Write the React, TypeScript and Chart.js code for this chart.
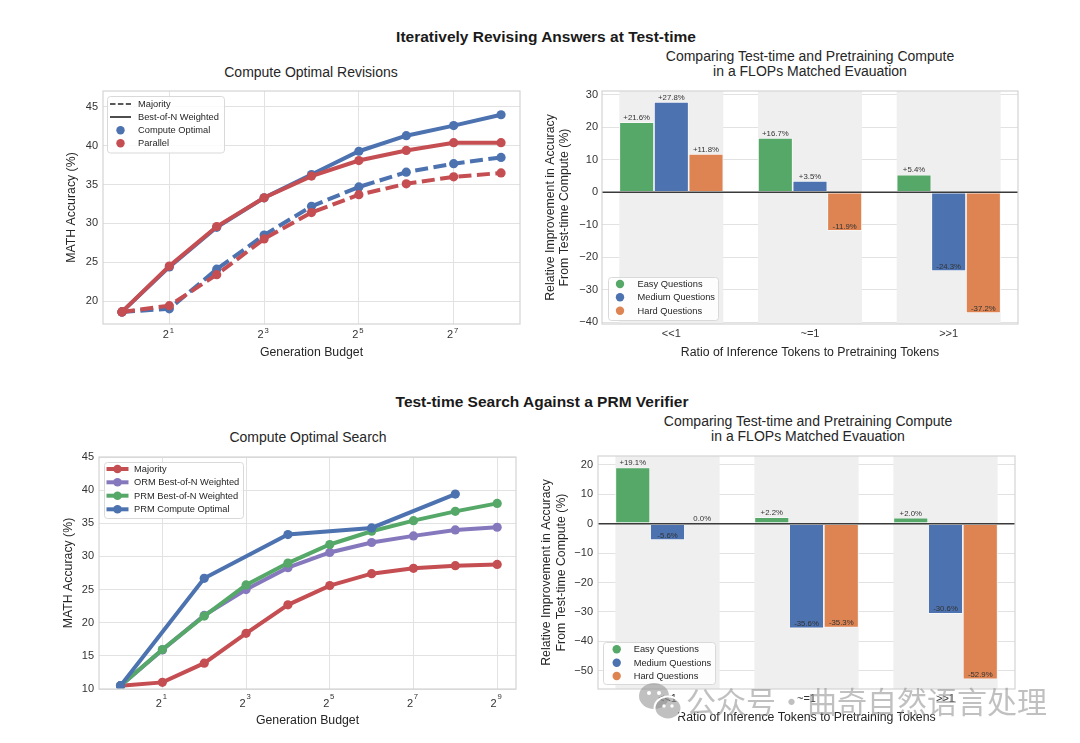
import React, { useEffect, useRef } from 'react';
import { Chart, registerables } from 'chart.js';

Chart.register(...registerables);

const FONT = "'Liberation Sans', Arial, Helvetica, sans-serif";
Chart.defaults.font.family = FONT;

// ---------------- data ----------------
const revisionBudgets = [1, 2, 4, 8, 16, 32, 64, 128, 256];
const computeOptimalBestOfN = [18.6, 24.4, 29.5, 33.3, 36.3, 39.3, 41.3, 42.6, 44.0];
const parallelBestOfN = [18.6, 24.5, 29.6, 33.3, 36.1, 38.1, 39.4, 40.4, 40.4];
const computeOptimalMajority = [18.6, 19.0, 24.1, 28.5, 32.2, 34.7, 36.6, 37.7, 38.5];
const parallelMajority = [18.6, 19.4, 23.4, 28.0, 31.4, 33.7, 35.1, 36.0, 36.5];

const searchBudgets = [1, 2, 4, 8, 16, 32, 64, 128, 256, 512];
const searchMajority = [10.5, 11.0, 13.9, 18.4, 22.7, 25.6, 27.4, 28.2, 28.6, 28.8];
const ormBestOfN = [10.5, 15.9, 21.1, 25.0, 28.3, 30.6, 32.1, 33.1, 34.0, 34.4];
const prmBestOfN = [10.5, 15.95, 21.0, 25.7, 29.0, 31.8, 33.8, 35.4, 36.8, 38.0];
const prmOptimalBudgets = [1, 4, 16, 64, 256];
const prmComputeOptimal = [10.5, 26.7, 33.3, 34.3, 39.4];

const ratioCategories = ['<<1', '~=1', '>>1'];
const revisionEasy = [21.6, 16.7, 5.4];
const revisionMedium = [27.8, 3.5, -24.3];
const revisionHard = [11.8, -11.9, -37.2];
const searchEasy = [19.1, 2.2, 2.0];
const searchMedium = [-5.6, -35.6, -30.6];
const searchHard = [0.0, -35.3, -52.9];

const revisionAccTicks = [20, 25, 30, 35, 40, 45];
const searchAccTicks = [10, 15, 20, 25, 30, 35, 40, 45];
const revisionBudgetTicks = [2, 8, 32, 128];
const searchBudgetTicks = [2, 8, 32, 128, 512];
const revisionImprovementTicks = [-40, -30, -20, -10, 0, 10, 20, 30];
const searchImprovementTicks = [-50, -40, -30, -20, -10, 0, 10, 20];

// ---------------- style ----------------
const BLUE = '#4C72B0';
const RED = '#C44E52';
const GREEN = '#55A868';
const ORANGE = '#DD8452';
const PURPLE = '#8678BD';
const GRID = '#e2e2e2';
const FRAME = '#d4d4d4';
const TICK = '#333333';
const LABEL = '#262626';

type Box = { left: number; top: number; width: number; height: number };
type Rect = { left: number; top: number; right: number; bottom: number };

const BOX1: Box = { left: 60, top: 85, width: 470, height: 280 };
const PLOT1: Rect = { left: 103, top: 91, right: 520, bottom: 324 };
const BOX2: Box = { left: 540, top: 85, width: 490, height: 280 };
const PLOT2: Rect = { left: 602, top: 91, right: 1018, bottom: 324 };
const BOX3: Box = { left: 56, top: 450, width: 474, height: 285 };
const PLOT3: Rect = { left: 99, top: 457, right: 516, bottom: 689 };
const BOX4: Box = { left: 530, top: 450, width: 500, height: 285 };
const PLOT4: Rect = { left: 598, top: 456, right: 1015, bottom: 689 };

function layoutFor(box: Box, plot: Rect) {
  return {
    padding: { top: plot.top - box.top, right: box.left + box.width - plot.right, left: 0, bottom: 0 },
    yWidth: plot.left - box.left,
    xHeight: box.top + box.height - plot.bottom,
  };
}

const fitTo = (kind: 'x' | 'y', size: number) => (s: any) => {
  if (kind === 'y') s.width = size;
  else s.height = size;
  s.paddingTop = 0;
  s.paddingBottom = 0;
  s.paddingLeft = 0;
  s.paddingRight = 0;
};
const fixTicks = (vals: number[]) => (s: any) => {
  s.ticks = vals.map((value) => ({ value }));
};
const minusFmt = (v: any) => (Number(v) < 0 ? '\u2212' + Math.abs(Number(v)) : String(v));

// ---------------- plugins ----------------
const framePlugin = {
  id: 'frameBox',
  afterDraw(chart: any) {
    const { ctx, chartArea: a } = chart;
    ctx.save();
    ctx.strokeStyle = FRAME;
    ctx.lineWidth = 1.2;
    ctx.strokeRect(a.left, a.top, a.right - a.left, a.bottom - a.top);
    ctx.restore();
  },
};

type LegendItem = { label: string; kind: 'dash' | 'line' | 'dot' | 'linedot'; color: string };
type LegendSpec = {
  x1: number; y1: number; x2: number; y2: number;
  rows: number[]; markerX: number; textX: number; half: number; dotR: number;
  fontSize: number; items: LegendItem[];
};

function legendPlugin(box: Box, spec: LegendSpec) {
  return {
    id: 'customLegend',
    afterDraw(chart: any) {
      const ctx = chart.ctx;
      ctx.save();
      ctx.translate(-box.left, -box.top);
      ctx.beginPath();
      ctx.roundRect(spec.x1 + 0.5, spec.y1 + 0.5, spec.x2 - spec.x1, spec.y2 - spec.y1, 3);
      ctx.fillStyle = 'rgba(255,255,255,0.85)';
      ctx.fill();
      ctx.strokeStyle = '#d9d9d9';
      ctx.lineWidth = 1;
      ctx.stroke();
      ctx.font = `${spec.fontSize}px ${FONT}`;
      ctx.textBaseline = 'middle';
      ctx.textAlign = 'left';
      spec.items.forEach((it, i) => {
        const y = spec.rows[i];
        const mx = spec.markerX;
        if (it.kind !== 'dot') {
          ctx.beginPath();
          ctx.setLineDash(it.kind === 'dash' ? [5.5, 2.4] : []);
          ctx.lineWidth = it.kind === 'linedot' ? 4 : 1.6;
          ctx.strokeStyle = it.color;
          ctx.moveTo(mx - spec.half, y);
          ctx.lineTo(mx + spec.half, y);
          ctx.stroke();
          ctx.setLineDash([]);
        }
        if (it.kind === 'dot' || it.kind === 'linedot') {
          ctx.beginPath();
          ctx.arc(mx, y, spec.dotR, 0, Math.PI * 2);
          ctx.fillStyle = it.color;
          ctx.fill();
        }
        ctx.fillStyle = LABEL;
        ctx.fillText(it.label, spec.textX, y + 0.5);
      });
      ctx.restore();
    },
  };
}

function pow2LabelPlugin(baseDy: number, supDy: number) {
  return {
    id: 'pow2Labels',
    afterDraw(chart: any) {
      const sc = chart.scales.x;
      const ctx = chart.ctx;
      const bottom = chart.chartArea.bottom;
      ctx.save();
      ctx.fillStyle = TICK;
      ctx.textBaseline = 'alphabetic';
      ctx.textAlign = 'left';
      sc.ticks.forEach((t: any) => {
        const x = sc.getPixelForValue(t.value);
        const exp = String(Math.round(Math.log2(t.value)));
        ctx.font = `11px ${FONT}`;
        const w1 = ctx.measureText('2').width;
        ctx.font = `7.7px ${FONT}`;
        const w2 = ctx.measureText(exp).width;
        const start = x - (w1 + w2 + 0.8) / 2 - 1;
        ctx.font = `11px ${FONT}`;
        ctx.fillText('2', start, bottom + baseDy);
        ctx.font = `7.7px ${FONT}`;
        ctx.fillText(exp, start + w1 + 0.8, bottom + supDy);
      });
      ctx.restore();
    },
  };
}

const bandPlugin = {
  id: 'groupBands',
  beforeDatasetsDraw(chart: any) {
    const { ctx, chartArea: a } = chart;
    const first = chart.getDatasetMeta(0).data;
    const last = chart.getDatasetMeta(chart.data.datasets.length - 1).data;
    ctx.save();
    ctx.fillStyle = '#efefef';
    first.forEach((el: any, i: number) => {
      const l = el.x - el.width / 2;
      const r = last[i].x + last[i].width / 2;
      ctx.fillRect(l, a.top, r - l, a.bottom - a.top);
    });
    ctx.restore();
  },
};

const zeroLinePlugin = {
  id: 'zeroLine',
  afterDatasetsDraw(chart: any) {
    const { ctx, chartArea: a } = chart;
    const y = chart.scales.y.getPixelForValue(0);
    ctx.save();
    ctx.strokeStyle = '#3a3a3a';
    ctx.lineWidth = 1.5;
    ctx.beginPath();
    ctx.moveTo(a.left, y);
    ctx.lineTo(a.right, y);
    ctx.stroke();
    ctx.restore();
  },
};

const barLabelPlugin = {
  id: 'barLabels',
  afterDatasetsDraw(chart: any) {
    const ctx = chart.ctx;
    ctx.save();
    ctx.font = `7.8px ${FONT}`;
    ctx.fillStyle = '#333';
    ctx.textAlign = 'center';
    ctx.textBaseline = 'bottom';
    chart.data.datasets.forEach((ds: any, i: number) => {
      chart.getDatasetMeta(i).data.forEach((el: any, j: number) => {
        const v = ds.data[j];
        const txt = (v > 0 ? '+' : '') + v.toFixed(1) + '%';
        ctx.fillText(txt, el.x, el.y - 0.5);
      });
    });
    ctx.restore();
  },
};

// ---------------- chart configs ----------------
function lineDs(label: string, xs: number[], ys: number[], color: string, dashed: boolean, order: number) {
  return {
    label,
    data: xs.map((x, i) => ({ x, y: ys[i] })),
    borderColor: color,
    backgroundColor: color,
    borderWidth: 4,
    borderDash: dashed ? [13, 5.5] : [],
    borderCapStyle: 'butt',
    pointRadius: 4.6,
    pointBorderWidth: 0,
    pointBackgroundColor: color,
    pointBorderColor: color,
    tension: 0,
    order,
  };
}

function axisTitle(text: any, padding: any, lineHeight = 1.2) {
  return { display: true, text, color: LABEL, font: { size: 12.3, family: FONT, lineHeight }, padding };
}

function makeLineOptions(box: Box, plot: Rect, xMinExp: number, xMaxExp: number, xTicks: number[], yMin: number, yMax: number, yTicks: number[], yTitlePad: number, xTitlePad: number) {
  const lay = layoutFor(box, plot);
  return {
    animation: false,
    responsive: false,
    devicePixelRatio: 1,
    layout: { padding: lay.padding },
    plugins: { legend: { display: false }, tooltip: { enabled: false }, title: { display: false } },
    scales: {
      x: {
        type: 'logarithmic',
        min: Math.pow(2, xMinExp),
        max: Math.pow(2, xMaxExp),
        afterBuildTicks: fixTicks(xTicks),
        afterFit: fitTo('x', lay.xHeight),
        grid: { color: GRID, lineWidth: 1, drawTicks: false },
        border: { display: false },
        ticks: { display: false },
        title: axisTitle('Generation Budget', { top: 0, bottom: xTitlePad }),
      },
      y: {
        type: 'linear',
        min: yMin,
        max: yMax,
        afterBuildTicks: fixTicks(yTicks),
        afterFit: fitTo('y', lay.yWidth),
        grid: { color: GRID, lineWidth: 1, drawTicks: false },
        border: { display: false },
        ticks: { color: TICK, font: { size: 11 }, padding: 5, autoSkip: false, callback: minusFmt },
        title: axisTitle('MATH Accuracy (%)', { top: yTitlePad, bottom: 0 }),
      },
    },
  };
}

function makeBarOptions(box: Box, plot: Rect, yMin: number, yMax: number, yTicks: number[], yTitlePad: number, xTitlePad: number, yTickPad: number) {
  const lay = layoutFor(box, plot);
  return {
    animation: false,
    responsive: false,
    devicePixelRatio: 1,
    layout: { padding: lay.padding },
    plugins: { legend: { display: false }, tooltip: { enabled: false }, title: { display: false } },
    scales: {
      x: {
        type: 'category',
        offset: true,
        afterFit: fitTo('x', lay.xHeight),
        grid: { display: false },
        border: { display: false },
        ticks: { color: TICK, font: { size: 11 }, padding: -4.5 },
        title: axisTitle('Ratio of Inference Tokens to Pretraining Tokens', { top: 0, bottom: xTitlePad }),
      },
      y: {
        type: 'linear',
        min: yMin,
        max: yMax,
        afterBuildTicks: fixTicks(yTicks),
        afterFit: fitTo('y', lay.yWidth),
        grid: { color: GRID, lineWidth: 1, drawTicks: false },
        border: { display: false },
        ticks: { color: TICK, font: { size: 11 }, padding: yTickPad, autoSkip: false, callback: minusFmt },
        title: axisTitle(['Relative Improvement in Accuracy', 'From Test-time Compute (%)'], { top: yTitlePad, bottom: 0 }, 1.18),
      },
    },
  };
}

function barDs(label: string, data: number[], color: string) {
  return {
    label,
    data,
    backgroundColor: color,
    borderColor: 'rgba(255,255,255,0.85)',
    borderWidth: 0.8,
    borderSkipped: false,
    categoryPercentage: 0.75,
    barPercentage: 1.0,
  };
}

const questionLegendItems: LegendItem[] = [
  { label: 'Easy Questions', kind: 'dot', color: GREEN },
  { label: 'Medium Questions', kind: 'dot', color: BLUE },
  { label: 'Hard Questions', kind: 'dot', color: ORANGE },
];

const makeRevisionLines = () => ({
  type: 'line',
  data: {
    datasets: [
      lineDs('Parallel Best-of-N Weighted', revisionBudgets, parallelBestOfN, RED, false, 0),
      lineDs('Parallel Majority', revisionBudgets, parallelMajority, RED, true, 1),
      lineDs('Compute Optimal Best-of-N Weighted', revisionBudgets, computeOptimalBestOfN, BLUE, false, 2),
      lineDs('Compute Optimal Majority', revisionBudgets, computeOptimalMajority, BLUE, true, 3),
    ],
  },
  options: makeLineOptions(BOX1, PLOT1, -0.4, 8.4, revisionBudgetTicks, 17.04, 47.06, revisionAccTicks, 4.6, 4.9),
  plugins: [
    pow2LabelPlugin(14, 8.5),
    framePlugin,
    legendPlugin(BOX1, {
      x1: 107, y1: 96, x2: 224, y2: 152.5,
      rows: [104, 117, 130.3, 143.3], markerX: 120.5, textX: 138, half: 10.5, dotR: 4.2, fontSize: 9.3,
      items: [
        { label: 'Majority', kind: 'dash', color: '#222' },
        { label: 'Best-of-N Weighted', kind: 'line', color: '#222' },
        { label: 'Compute Optimal', kind: 'dot', color: BLUE },
        { label: 'Parallel', kind: 'dot', color: RED },
      ],
    }),
  ],
});

const makeRevisionBars = () => ({
  type: 'bar',
  data: {
    labels: ratioCategories,
    datasets: [
      barDs('Easy Questions', revisionEasy, GREEN),
      barDs('Medium Questions', revisionMedium, BLUE),
      barDs('Hard Questions', revisionHard, ORANGE),
    ],
  },
  options: makeBarOptions(BOX2, PLOT2, -40.6, 31.2, revisionImprovementTicks, 3.3, 5.3, 4),
  plugins: [
    bandPlugin,
    zeroLinePlugin,
    barLabelPlugin,
    framePlugin,
    legendPlugin(BOX2, {
      x1: 608, y1: 277, x2: 718, y2: 320,
      rows: [284, 297.3, 310.7], markerX: 620, textX: 637.5, half: 10, dotR: 4.2, fontSize: 9.3,
      items: questionLegendItems,
    }),
  ],
});

const makeSearchLines = () => ({
  type: 'line',
  data: {
    datasets: [
      lineDs('PRM Compute Optimal', prmOptimalBudgets, prmComputeOptimal, BLUE, false, 0),
      lineDs('PRM Best-of-N Weighted', searchBudgets, prmBestOfN, GREEN, false, 1),
      lineDs('ORM Best-of-N Weighted', searchBudgets, ormBestOfN, PURPLE, false, 2),
      lineDs('Majority', searchBudgets, searchMajority, RED, false, 3),
    ],
  },
  options: makeLineOptions(BOX3, PLOT3, -0.45, 9.45, searchBudgetTicks, 10, 45, searchAccTicks, 5.3, 6.9),
  plugins: [
    pow2LabelPlugin(18, 10),
    framePlugin,
    legendPlugin(BOX3, {
      x1: 104, y1: 462, x2: 243, y2: 518,
      rows: [469, 482.3, 495.7, 509.3], markerX: 117.5, textX: 134, half: 11, dotR: 4.3, fontSize: 9.3,
      items: [
        { label: 'Majority', kind: 'linedot', color: RED },
        { label: 'ORM Best-of-N Weighted', kind: 'linedot', color: PURPLE },
        { label: 'PRM Best-of-N Weighted', kind: 'linedot', color: GREEN },
        { label: 'PRM Compute Optimal', kind: 'linedot', color: BLUE },
      ],
    }),
  ],
});

const makeSearchBars = () => ({
  type: 'bar',
  data: {
    labels: ratioCategories,
    datasets: [
      barDs('Easy Questions', searchEasy, GREEN),
      barDs('Medium Questions', searchMedium, BLUE),
      barDs('Hard Questions', searchHard, ORANGE),
    ],
  },
  options: makeBarOptions(BOX4, PLOT4, -56.2, 23.0, searchImprovementTicks, 9.5, 9.9, 5),
  plugins: [
    bandPlugin,
    zeroLinePlugin,
    barLabelPlugin,
    framePlugin,
    legendPlugin(BOX4, {
      x1: 603, y1: 642, x2: 715, y2: 684,
      rows: [649.3, 662.7, 676], markerX: 616.7, textX: 633.7, half: 10, dotR: 4.2, fontSize: 9.3,
      items: questionLegendItems,
    }),
  ],
});

// ---------------- components ----------------
function ChartCanvas({ box, make }: { box: Box; make: () => any }) {
  const ref = useRef<HTMLCanvasElement>(null);
  useEffect(() => {
    const chart = new Chart(ref.current as HTMLCanvasElement, make() as any);
    return () => chart.destroy();
  }, []);
  return (
    <canvas
      ref={ref}
      width={box.width}
      height={box.height}
      style={{ position: 'absolute', left: box.left, top: box.top, width: box.width, height: box.height }}
    />
  );
}

type TitleSpec = { lines: string[]; cx: number; cy: number; size: number; bold?: boolean; lh: number };
const TITLES: TitleSpec[] = [
  { lines: ['Iteratively Revising Answers at Test-time'], cx: 546, cy: 37, size: 15.5, bold: true, lh: 18 },
  { lines: ['Compute Optimal Revisions'], cx: 311, cy: 71.5, size: 14, lh: 16 },
  { lines: ['Comparing Test-time and Pretraining Compute', 'in a FLOPs Matched Evauation'], cx: 810, cy: 63.5, size: 14, lh: 15 },
  { lines: ['Test-time Search Against a PRM Verifier'], cx: 542, cy: 402, size: 15.5, bold: true, lh: 18 },
  { lines: ['Compute Optimal Search'], cx: 308, cy: 436.5, size: 14, lh: 16 },
  { lines: ['Comparing Test-time and Pretraining Compute', 'in a FLOPs Matched Evauation'], cx: 808, cy: 428.5, size: 14, lh: 15 },
];

function Title({ t }: { t: TitleSpec }) {
  const h = t.lh * t.lines.length;
  return (
    <div
      style={{
        position: 'absolute',
        left: t.cx - 300,
        top: t.cy - h / 2,
        width: 600,
        textAlign: 'center',
        fontFamily: FONT,
        fontSize: t.size,
        fontWeight: t.bold ? 'bold' : 'normal',
        lineHeight: `${t.lh}px`,
        color: t.bold ? '#1a1a1a' : LABEL,
        whiteSpace: 'nowrap',
      }}
    >
      {t.lines.map((l, i) => (
        <div key={i}>{l}</div>
      ))}
    </div>
  );
}

function Watermark() {
  const col = 'rgba(140,140,140,0.55)';
  return (
    <>
      <svg
        width={50}
        height={42}
        style={{ position: 'absolute', left: 636, top: 680, pointerEvents: 'none' }}
      >
        <ellipse cx={18} cy={16} rx={15} ry={13} fill={col} />
        <circle cx={13} cy={13} r={2} fill="#fff" />
        <circle cx={23} cy={13} r={2} fill="#fff" />
        <ellipse cx={32} cy={28} rx={13.5} ry={11.5} fill={col} stroke="#fff" strokeWidth={2} />
        <circle cx={28} cy={26} r={1.7} fill="#fff" />
        <circle cx={36} cy={26} r={1.7} fill="#fff" />
      </svg>
      <div
        style={{
          position: 'absolute',
          left: 686,
          top: 685,
          fontFamily: "'Noto Sans CJK SC', sans-serif",
          fontSize: 30,
          lineHeight: '30px',
          color: col,
          whiteSpace: 'nowrap',
          pointerEvents: 'none',
        }}
      >
        公众号
        <span style={{ display: 'inline-block', width: 31, textAlign: 'center' }}>·</span>
        曲奇自然语言处理
      </div>
    </>
  );
}

export default function App() {
  return (
    <div
      style={{
        position: 'absolute',
        left: 0,
        top: 0,
        width: 1080,
        height: 743,
        background: '#fff',
        overflow: 'hidden',
      }}
    >
      {TITLES.map((t, i) => (
        <Title key={i} t={t} />
      ))}
      <ChartCanvas box={BOX1} make={makeRevisionLines} />
      <ChartCanvas box={BOX2} make={makeRevisionBars} />
      <ChartCanvas box={BOX3} make={makeSearchLines} />
      <ChartCanvas box={BOX4} make={makeSearchBars} />
      <Watermark />
    </div>
  );
}
